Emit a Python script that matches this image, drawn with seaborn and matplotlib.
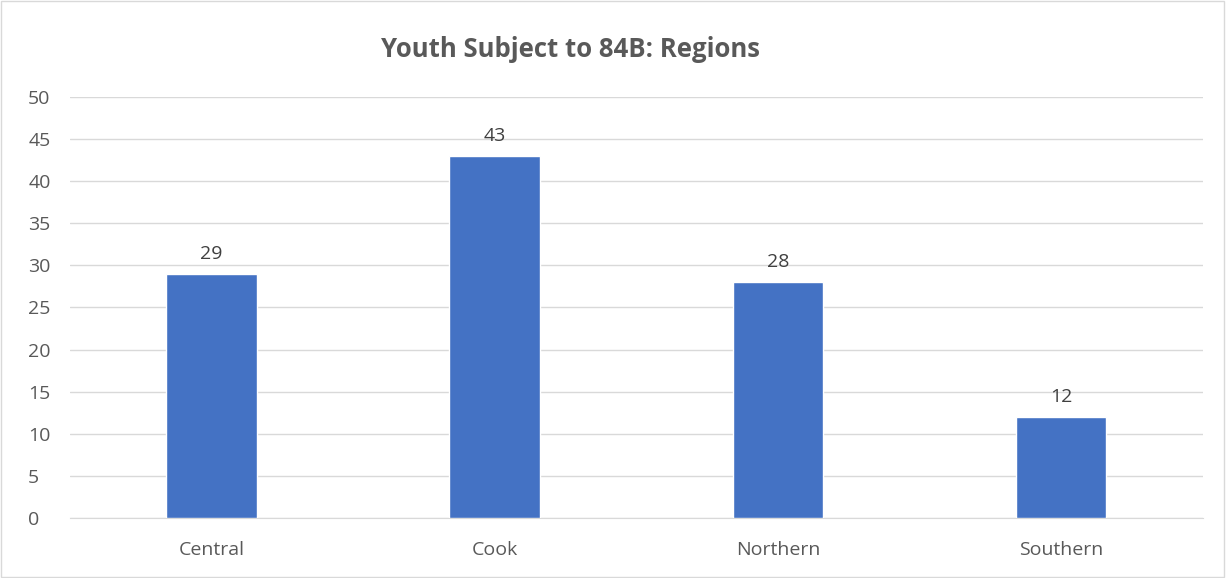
import matplotlib
matplotlib.use("Agg")
import matplotlib.pyplot as plt
import seaborn as sns
import pandas as pd

# Chart data
regions = ["Central", "Cook", "Northern", "Southern"]
youth_counts = [29, 43, 28, 12]
y_ticks = [0, 5, 10, 15, 20, 25, 30, 35, 40, 45, 50]

df = pd.DataFrame({"Region": regions, "Count": youth_counts})

sns.set_style("white")
plt.rcParams["font.family"] = ["Open Sans", "DejaVu Sans"]

fig = plt.figure(figsize=(12.26, 5.78), dpi=100)
ax = fig.add_axes([0.057, 0.104, 0.924, 0.728])

sns.barplot(data=df, x="Region", y="Count", color="#4472C4", width=0.32,
            saturation=1, ax=ax, zorder=3)

ax.set_ylim(0, 50)
ax.set_xlim(-0.5, 3.5)
ax.set_yticks(y_ticks)
ax.yaxis.grid(True, color="#d9d9d9", linewidth=1, zorder=0)
ax.set_axisbelow(True)
for side in ["top", "right", "left"]:
    ax.spines[side].set_visible(False)
ax.spines["bottom"].set_color("#d9d9d9")
ax.tick_params(axis="both", length=0, labelsize=14, colors="#595959")
ax.tick_params(axis="x", pad=17)
ax.tick_params(axis="y", pad=30)
for lbl in ax.get_yticklabels():
    lbl.set_horizontalalignment("left")
ax.set_xlabel("")
ax.set_ylabel("")

for p, v in zip(ax.patches, youth_counts):
    ax.annotate(str(v), (p.get_x() + p.get_width() / 2, v), xytext=(0, 8),
                textcoords="offset points", ha="center", va="bottom",
                fontsize=14, color="#404040")

fig.text(0.465, 0.915, "Youth Subject to 84B: Regions", ha="center", va="center",
         fontsize=18.5, fontweight="bold", color="#595959")

# outer border
fig.patches.append(plt.Rectangle((0.001, 0.002), 0.997, 0.996, transform=fig.transFigure,
                                 fill=False, edgecolor="#d9d9d9", linewidth=1))

fig.savefig("out.png", dpi=100)
